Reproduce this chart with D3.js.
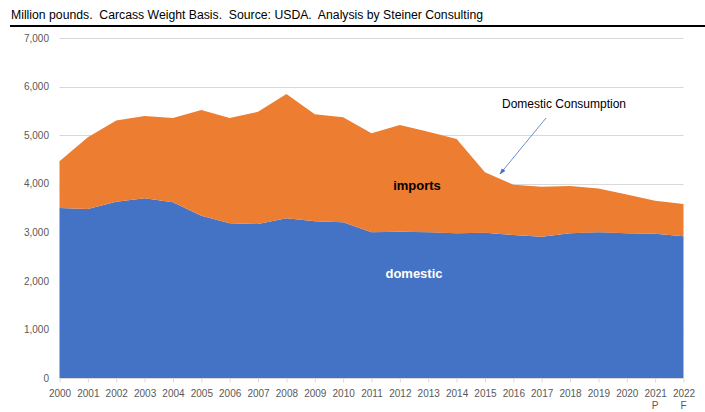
<!DOCTYPE html>
<html>
<head>
<meta charset="utf-8">
<script src="https://cdn.jsdelivr.net/npm/d3@7"></script>
<style>
  body { margin: 0; background: #fff; }
  svg { display: block; font-family: "Liberation Sans", Arial, sans-serif; }
</style>
</head>
<body>
<div id="chart"></div>
<script>

var years = ["2000", "2001", "2002", "2003", "2004", "2005", "2006", "2007", "2008", "2009", "2010",
             "2011", "2012", "2013", "2014", "2015", "2016", "2017", "2018", "2019", "2020", "2021", "2022"];
var yearNotes = {"2021": "P", "2022": "F"};

// million pounds, carcass weight
var domestic = [3500, 3480, 3630, 3700, 3620, 3340, 3185, 3170, 3290, 3225, 3205, 3000,
                3010, 3000, 2980, 2990, 2945, 2910, 2980, 3000, 2980, 2970, 2920];
var imports  = [960, 1475, 1670, 1695, 1735, 2180, 2170, 2310, 2555, 2205, 2165, 2040,
                2200, 2070, 1940, 1245, 1035, 1030, 975, 900, 800, 680, 660];

var yTicks = [0, 1000, 2000, 3000, 4000, 5000, 6000, 7000];

var width = 705;
var height = 412;

var rows = years.map(function(y, i) {
    return {year: y, domestic: domestic[i], imports: imports[i]};
});

var svg = d3.select('#chart')
    .append('svg')
    .attr('width', width)
    .attr('height', height);

var x = d3.scalePoint()
    .domain(years)
    .range([59.5, 683.5]);

var y = d3.scaleLinear()
    .domain([0, 7000])
    .range([378, 38]);

// subtitle + rule
svg.append('text')
    .attr('x', 11)
    .attr('y', 19)
    .attr('font-size', 12)
    .attr('textLength', 472)
    .attr('lengthAdjust', 'spacingAndGlyphs')
    .style('white-space', 'pre')
    .attr('fill', '#000')
    .text('Million pounds.  Carcass Weight Basis.  Source: USDA.  Analysis by Steiner Consulting');

svg.append('line')
    .attr('x1', 10).attr('x2', width)
    .attr('y1', 26).attr('y2', 26)
    .attr('stroke', '#000')
    .attr('stroke-width', 2);

// grid
svg.append('g')
    .selectAll('line')
    .data(yTicks.filter(function(d) { return d > 0; }))
    .enter()
    .append('line')
    .attr('x1', x.range()[0])
    .attr('x2', x.range()[1])
    .attr('y1', function(d) { return Math.round(y(d)) + 0.5; })
    .attr('y2', function(d) { return Math.round(y(d)) + 0.5; })
    .attr('stroke', '#d9d9d9');

// stacked areas
var stack = d3.stack().keys(['domestic', 'imports']);
var colors = {domestic: '#4472c4', imports: '#ed7d31'};

var area = d3.area()
    .x(function(d) { return x(d.data.year); })
    .y0(function(d) { return y(d[0]); })
    .y1(function(d) { return y(d[1]); });

svg.append('g')
    .selectAll('path')
    .data(stack(rows))
    .enter()
    .append('path')
    .attr('d', area)
    .attr('fill', function(d) { return colors[d.key]; });

// y axis labels
var yAxis = svg.append('g')
    .attr('transform', 'translate(49,0)')
    .call(d3.axisLeft(y).tickValues(yTicks).tickSize(0).tickPadding(0).tickFormat(d3.format(',')));
yAxis.select('.domain').remove();
yAxis.selectAll('text')
    .attr('font-family', null)
    .attr('font-size', 10)
    .attr('fill', '#595959');

// x axis
var xAxis = svg.append('g')
    .attr('transform', 'translate(0,378.5)')
    .call(d3.axisBottom(x).tickSize(4).tickPadding(7));
xAxis.select('.domain').attr('stroke', '#d9d9d9').attr('d', 'M' + x.range()[0] + ',0H' + x.range()[1]);
xAxis.selectAll('line').attr('stroke', '#d9d9d9');
xAxis.selectAll('text')
    .attr('font-family', null)
    .attr('font-size', 10)
    .attr('fill', '#595959');

svg.append('g')
    .selectAll('text')
    .data(Object.keys(yearNotes))
    .enter()
    .append('text')
    .attr('x', function(d) { return x(d); })
    .attr('y', 409)
    .attr('text-anchor', 'middle')
    .attr('font-size', 10)
    .attr('fill', '#595959')
    .text(function(d) { return yearNotes[d]; });

// series labels
svg.append('text')
    .attr('x', 417).attr('y', 190)
    .attr('text-anchor', 'middle')
    .attr('font-size', 13)
    .attr('font-weight', 'bold')
    .attr('fill', '#000')
    .text('imports');

svg.append('text')
    .attr('x', 414).attr('y', 278)
    .attr('text-anchor', 'middle')
    .attr('font-size', 13)
    .attr('font-weight', 'bold')
    .attr('fill', '#fff')
    .text('domestic');

// annotation
svg.append('defs').append('marker')
    .attr('id', 'arrow')
    .attr('viewBox', '0 0 10 10')
    .attr('refX', 9).attr('refY', 5)
    .attr('markerWidth', 8).attr('markerHeight', 8)
    .attr('orient', 'auto')
    .append('path')
    .attr('d', 'M0,1.5L10,5L0,8.5Z')
    .attr('fill', '#4472c4');

svg.append('text')
    .attr('x', 564).attr('y', 108)
    .attr('text-anchor', 'middle')
    .attr('font-size', 12)
    .attr('fill', '#000')
    .text('Domestic Consumption');

svg.append('line')
    .attr('x1', 546).attr('y1', 118)
    .attr('x2', 500).attr('y2', 174)
    .attr('stroke', '#4472c4')
    .attr('stroke-width', 0.8)
    .attr('marker-end', 'url(#arrow)');

</script>
</body>
</html>
